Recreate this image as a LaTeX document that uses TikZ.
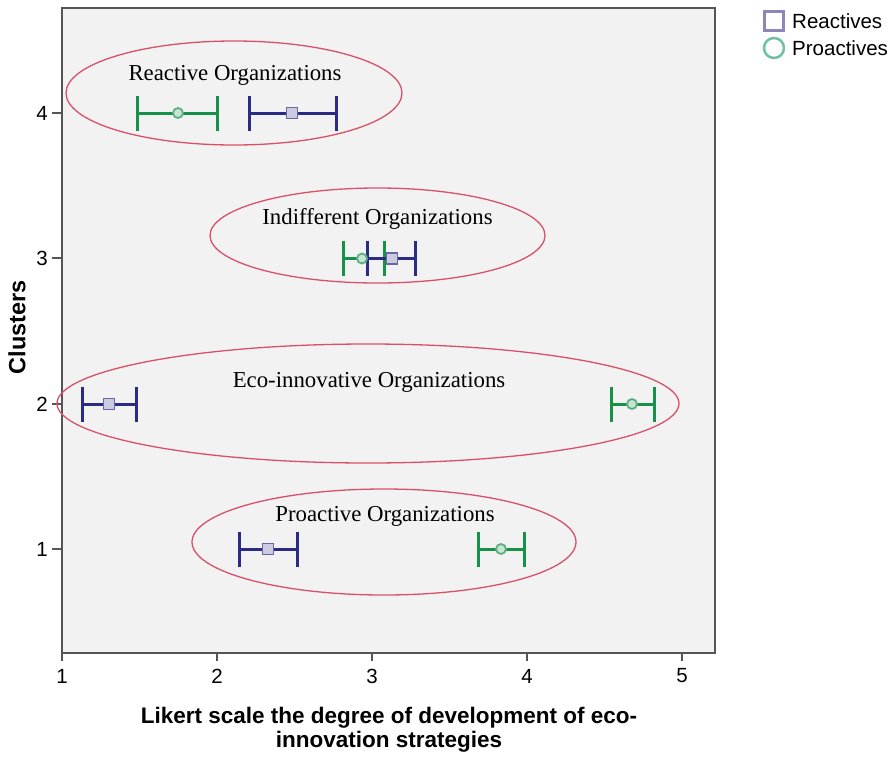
\documentclass[tikz,border=0pt]{standalone}
\usepackage{fontspec}
\setmainfont{Liberation Serif}
\setsansfont{Liberation Sans}
\usetikzlibrary{shapes.geometric}

\definecolor{plotbg}{HTML}{F2F2F2}
\definecolor{framegray}{HTML}{555555}
\definecolor{proline}{HTML}{17904A}
\definecolor{promark}{HTML}{5EAE82}
\definecolor{reline}{HTML}{2B2B86}
\definecolor{remark}{HTML}{6868A6}
\definecolor{ovalred}{HTML}{D8506A}
\definecolor{legre}{HTML}{8C86BC}
\definecolor{legpro}{HTML}{6CC2A0}

% error bar: name, style, y, low, high
\newcommand\errbar[5]{%
  \coordinate (#1lo) at (#4,#3);
  \coordinate (#1hi) at (#5,#3);
  \draw[#2] (#1lo) -- (#1hi);
  \draw[#2] ([yshift=17.5pt]#1lo) -- ([yshift=-17.5pt]#1lo);
  \draw[#2] ([yshift=17.5pt]#1hi) -- ([yshift=-17.5pt]#1hi);
}

\begin{document}
\begin{tikzpicture}[x=1pt,y=-1pt,
  oval/.style={draw=ovalred, line width=1.3pt, ellipse, inner sep=0pt},
  grouplabel/.style={font=\fontsize{22.8}{26}\selectfont, inner sep=0pt, anchor=base},
  ticklabel/.style={font=\sffamily\fontsize{20.5}{24}\selectfont, inner sep=0pt},
  axistitle/.style={font=\sffamily\bfseries\fontsize{22.5}{24}\selectfont, inner sep=0pt},
  probar/.style={draw=proline, line width=3pt},
  rebar/.style={draw=reline, line width=3pt},
  promean/.style={circle, draw=promark, fill=promark!35, line width=1.8pt, minimum size=10pt, inner sep=0pt},
  remean/.style={rectangle, draw=remark, fill=remark!35, line width=1.8pt, minimum size=11pt, inner sep=0pt},
  tick/.style={draw=framegray, line width=2pt}]

\useasboundingbox (0,0) rectangle (894,756);

% plot area
\draw[framegray, line width=2pt, fill=plotbg] (62,8) rectangle (715,653);

% axis ticks and labels
\foreach \v/\x in {1/62,2/217,3/372,4/527,5/682} {
  \draw[tick] (\x,653) -- (\x,661);
  \node[ticklabel] (xt\v) at (\x,676) {\v};
}
\foreach \v/\y in {1/549,2/404,3/258,4/113} {
  \draw[tick] (52,\y) -- (62,\y);
  \node[ticklabel, anchor=east] (yt\v) at (48,\y) {\v};
}
\node[axistitle, rotate=90, font=\sffamily\bfseries\fontsize{23.5}{26}\selectfont] (ytitle) at (17,327) {Clusters};
\node[axistitle, align=center] (xtitle) at (389,730) {Likert scale the degree of development of eco-\\innovation strategies};

% cluster ellipses
\node[oval, minimum width=336pt, minimum height=104pt] (e4) at (234,93) {};
\node[oval, minimum width=335pt, minimum height=95pt] (e3) at (377.5,235.5) {};
\node[oval, minimum width=622pt, minimum height=119pt] (e2) at (368,403.5) {};
\node[oval, minimum width=384pt, minimum height=106pt] (e1) at (384,542) {};

\node[grouplabel] (l4) at (235,80) {Reactive Organizations};
\node[grouplabel] (l3) at (377.5,224) {Indifferent Organizations};
\node[grouplabel] (l2) at (369,387) {Eco-innovative Organizations};
\node[grouplabel] (l1) at (385,521) {Proactive Organizations};

% cluster 4
\errbar{p4}{probar}{113}{137}{217}
\errbar{r4}{rebar}{113}{249}{336}
\node[promean] (p4m) at (178,113) {};
\node[remean] (r4m) at (292,113) {};

% cluster 3
\errbar{p3}{probar}{258.5}{343}{384}
\errbar{r3}{rebar}{258.5}{367}{415}
\node[promean] (p3m) at (362,258.5) {};
\node[remean] (r3m) at (392,258.5) {};

% cluster 2
\errbar{r2}{rebar}{404}{82}{136}
\errbar{p2}{probar}{404}{611}{654}
\node[remean] (r2m) at (109,404) {};
\node[promean] (p2m) at (632,404) {};

% cluster 1
\errbar{r1}{rebar}{549}{239}{297}
\errbar{p1}{probar}{549}{478}{524}
\node[remean] (r1m) at (268,549) {};
\node[promean] (p1m) at (501,549) {};

% legend
\node[rectangle, draw=legre, line width=2.5pt, minimum size=19pt, inner sep=0pt] (legsq) at (774,21) {};
\node[ticklabel, anchor=west] (legre) at (792,21) {Reactives};
\node[circle, draw=legpro, line width=2.5pt, minimum size=20pt, inner sep=0pt] (legci) at (774,48) {};
\node[ticklabel, anchor=west] (legpro) at (792,48) {Proactives};

\end{tikzpicture}
\end{document}
